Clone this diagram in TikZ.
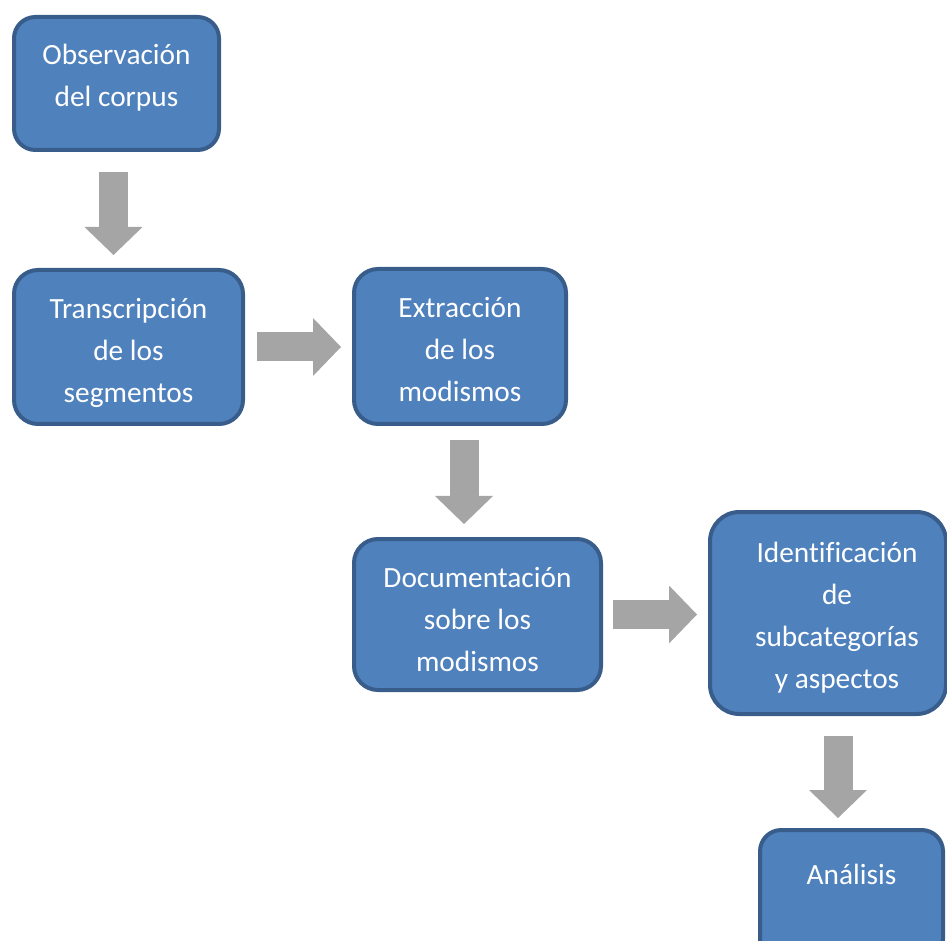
\documentclass[tikz,border=0pt]{standalone}
\usepackage{fontspec}
\setmainfont{Carlito}[Ligatures=CommonOff]
\usetikzlibrary{arrows.meta}
\definecolor{boxblue}{HTML}{4F81BD}
\definecolor{boxline}{HTML}{385D8A}
\definecolor{arrowgray}{HTML}{A5A5A5}

\begin{document}
\begin{tikzpicture}[x=0.75pt,y=-0.75pt]
\useasboundingbox (0,0) rectangle (947,941);
\begin{scope}
\tikzstyle{stage} = [rectangle,draw=boxline,fill=boxblue,line width=3pt,rounded corners=18pt]
\tikzstyle{word} = [font=\fontsize{22pt}{31.5pt}\selectfont,text=white,align=center,anchor=north,inner sep=0pt,execute at begin node=\strut]
\tikzstyle{flow} = [draw=arrowgray,line width=21.75pt,-{Triangle[width=43.5pt,length=21pt,line width=0pt]}]

\node [stage,minimum width=153.75pt,minimum height=99.75pt,rounded corners=16pt] (obs) at (116.5,83.5) {};
\node [word] (obsT) at ([yshift=-21.45pt]obs.north) {Observación\\del corpus};

\node [stage,minimum width=171.75pt,minimum height=115.5pt] (trans) at (128.5,347) {};
\node [word] (transT) at ([yshift=-22.2pt]trans.north) {Transcripción\\de los\\segmentos};

\node [stage,minimum width=159pt,minimum height=116.25pt] (extr) at (460,346.5) {};
\node [word] (extrT) at ([yshift=-22.5pt]extr.north) {Extracción\\de los\\modismos};

\node [stage,minimum width=185.25pt,minimum height=113.25pt] (docu) at (477.5,614.5) {};
\node [word] (docuT) at ([yshift=-22.2pt]docu.north) {Documentación\\sobre los\\modismos};

\node [stage,minimum width=177pt,minimum height=151.5pt,rounded corners=22pt] (ident) at (828,613) {};
\node [word] (identT) at ([yshift=-23.7pt,xshift=6.75pt]ident.north) {Identificación\\de\\subcategorías\\y aspectos};

\node [stage,minimum width=137.25pt,minimum height=97.5pt,rounded corners=16pt] (anal) at (851.5,895) {};
\node [word] (analT) at ([yshift=-19.95pt]anal.north) {Análisis};

%arrows
\draw [flow,shorten <=15pt,shorten >=9.75pt] ([xshift=-2.25pt]obs.south) -- ([xshift=-2.25pt]obs.south |- trans.north);
\draw [flow,shorten <=9pt,shorten >=8.25pt] (trans.east) -- (extr.west |- trans.east);
\draw [flow,shorten <=10.5pt,shorten >=9.75pt] ([xshift=3pt]extr.south) -- ([xshift=3pt]extr.south |- docu.north);
\draw [flow,shorten <=7.5pt,shorten >=8.25pt] (docu.east) -- (ident.west |- docu.east);
\draw [flow,shorten <=15pt,shorten >=7.5pt] ([xshift=7.5pt]ident.south) -- ([xshift=7.5pt]ident.south |- anal.north);
\end{scope}
\end{tikzpicture}
\end{document}
